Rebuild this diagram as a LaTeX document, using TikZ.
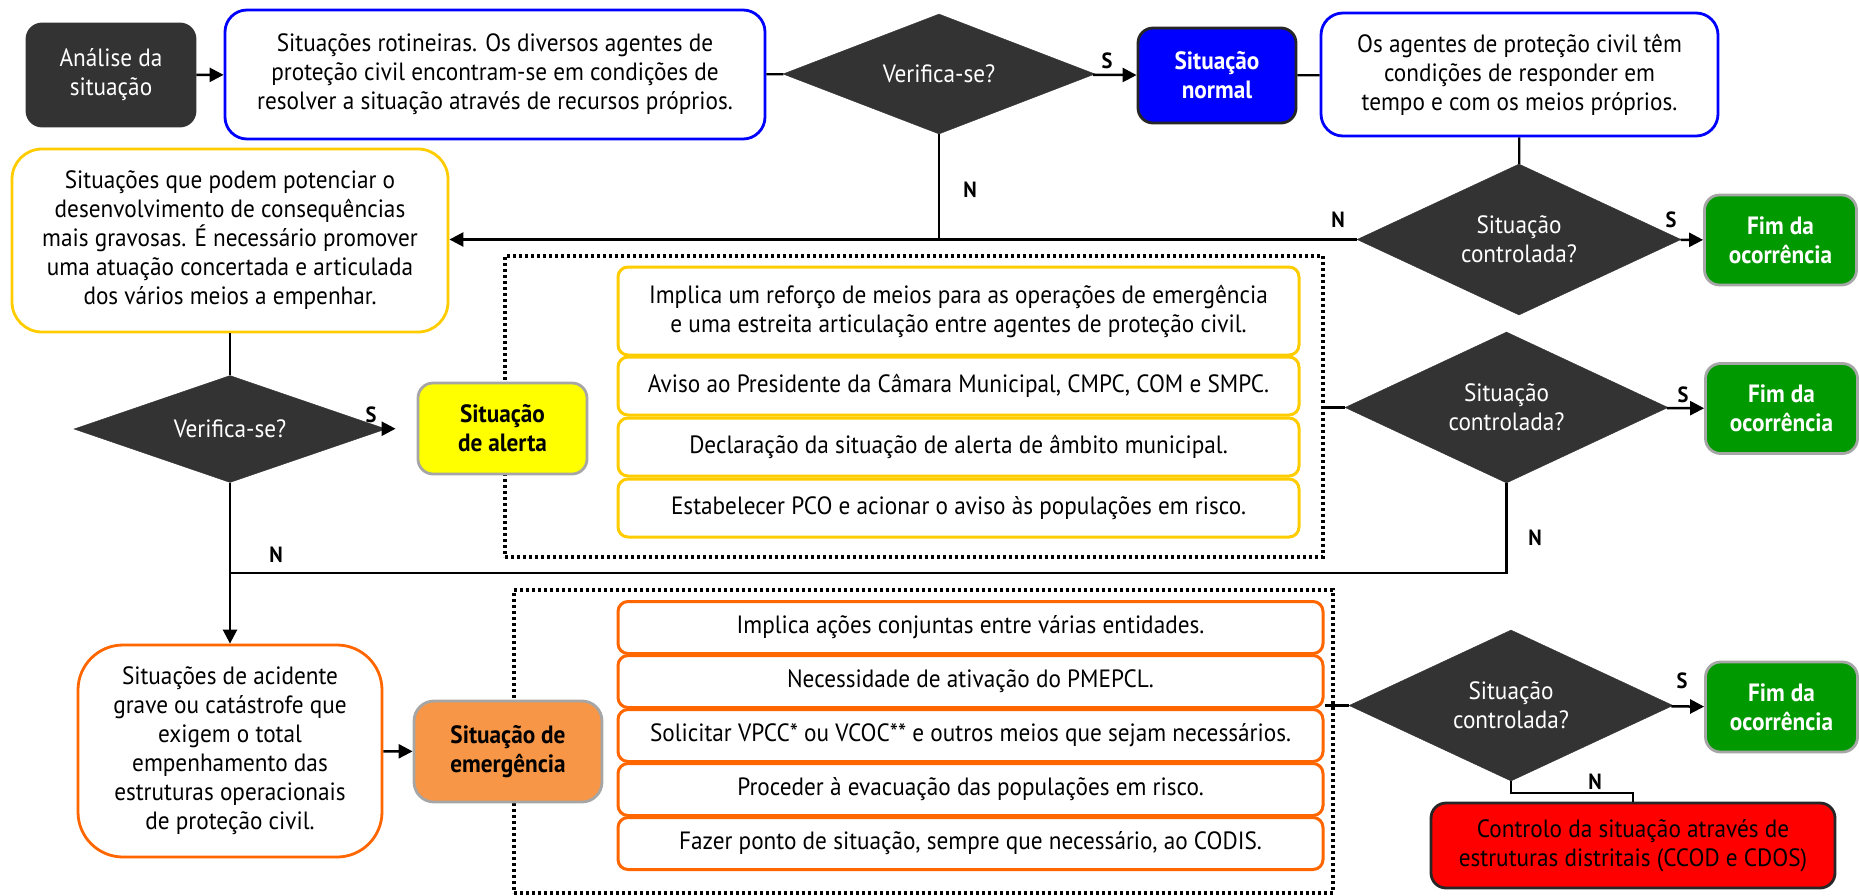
\documentclass[tikz,border=0pt]{standalone}
\usepackage{fontspec}
\setmainfont{PT Sans}[FakeStretch=0.93]
\usepackage{tikz}
\usetikzlibrary{shapes.geometric,arrows.meta}
\definecolor{escuro}{HTML}{333333}
\definecolor{azul}{HTML}{0000FF}
\definecolor{verde}{HTML}{009900}
\definecolor{amarelo}{HTML}{FFFF00}
\definecolor{ouro}{HTML}{FFCC00}
\definecolor{laranja}{HTML}{FF6600}
\definecolor{salmao}{HTML}{F79646}
\definecolor{cinza}{HTML}{A6A6A6}

\begin{document}
\begin{tikzpicture}[x=1pt,y=-1pt,
    txt/.style={font=\fontsize{25}{29}\selectfont, align=center, inner sep=0pt},
    bx/.style={txt, draw, line width=2.8pt, rounded corners=#1},
    dec/.style={txt, diamond, shape aspect=2, fill=escuro, draw=escuro, text=white},
    fim/.style={bx=15pt, fill=verde, draw=cinza, text=white, font=\fontsize{25}{29}\selectfont\bfseries, minimum width=152pt, minimum height=90pt},
    lista/.style={bx=10pt, line width=3pt, fill=white},
    pontos/.style={draw, line width=3.5pt, dash pattern=on 3pt off 3pt, inner sep=0pt},
    seta/.style={-{Triangle[length=14pt,width=14pt]}, line width=2.5pt},
    lig/.style={line width=2.2pt},
    lbl/.style={font=\fontsize{22}{22}\selectfont\bfseries, inner sep=0pt}]
  \useasboundingbox (0,0) rectangle (1859,895);

  \node[bx=15pt, fill=escuro, draw=escuro, text=white, minimum width=168pt, minimum height=102pt] (ana) at (111,75) {Análise da\\situação};
  \node[bx=22pt, draw=azul, minimum width=540pt, minimum height=129pt] (rot) at (495,74.5) {Situações rotineiras. Os diversos agentes de\\proteção civil encontram-se em condições de\\resolver a situação através de recursos próprios.};
  \node[dec, minimum width=312pt, minimum height=120pt] (ver1) at (939,74) {Verifica-se?};
  \node[bx=15pt, fill=azul, draw=black!85, text=white, font=\fontsize{25}{29}\selectfont\bfseries, minimum width=158pt, minimum height=95pt] (normal) at (1217,75.5) {Situação\\normal};
  \node[bx=22pt, draw=azul, minimum width=397pt, minimum height=123pt] (agentes) at (1519.5,74.5) {Os agentes de proteção civil têm\\condições de responder em\\tempo e com os meios próprios.};
  \node[dec, minimum width=324pt, minimum height=151pt] (ctl1) at (1519,239.5) {Situação\\controlada?};
  \node[fim] (fim1) at (1780.5,240) {Fim da\\ocorrência};

  \node[bx=30pt, draw=ouro, minimum width=436pt, minimum height=183pt] (pot) at (230,240.5) {Situações que podem potenciar o\\desenvolvimento de consequências\\mais gravosas. É necessário promover\\uma atuação concertada e articulada\\dos vários meios a empenhar.};
  \node[dec, minimum width=312pt, minimum height=107pt] (ver2) at (230,429) {Verifica-se?};
  \node[pontos, minimum width=818pt, minimum height=301pt] (cx1) at (914,406.5) {};
  \node[bx=15pt, fill=amarelo, draw=cinza, font=\fontsize{25}{29}\selectfont\bfseries, minimum width=169pt, minimum height=91pt] (alerta) at (502.5,428.5) {Situação\\de alerta};
  \node[lista, draw=ouro, minimum width=681pt, minimum height=88pt] (a1) at (958.5,311) {Implica um reforço de meios para as operações de emergência\\e uma estreita articulação entre agentes de proteção civil.};
  \foreach \t [count=\i from 2] in {{Aviso ao Presidente da Câmara Municipal, CMPC, COM e SMPC.}, {Declaração da situação de alerta de âmbito municipal.}, {Estabelecer PCO e acionar o aviso às populações em risco.}}
    \node[lista, draw=ouro, minimum width=681pt, minimum height=58pt] (a\i) at (958.5,{264+61*\i}) {\t};
  \node[dec, minimum width=323pt, minimum height=151pt] (ctl2) at (1506.5,407.5) {Situação\\controlada?};
  \node[fim] (fim2) at (1781.5,408.5) {Fim da\\ocorrência};

  \node[bx=45pt, draw=laranja, minimum width=304pt, minimum height=212pt] (grave) at (230,751) {Situações de acidente\\grave ou catástrofe que\\exigem o total\\empenhamento das\\estruturas operacionais\\de proteção civil.};
  \node[pontos, minimum width=819pt, minimum height=303pt] (cx2) at (923.5,741.5) {};
  \node[bx=20pt, fill=salmao, draw=cinza, font=\fontsize{25}{29}\selectfont\bfseries, minimum width=188pt, minimum height=101pt] (emerg) at (508,751.5) {Situação de\\emergência};
  \foreach \t [count=\i] in {{Implica ações conjuntas entre várias entidades.}, {Necessidade de ativação do PMEPCL.}, {Solicitar VPCC* ou VCOC** e outros meios que sejam necessários.}, {Proceder à evacuação das populações em risco.}, {Fazer ponto de situação, sempre que necessário, ao CODIS.}}
    \node[lista, draw=laranja, minimum width=705pt, minimum height=52pt] (e\i) at (970.5,{573.5+54*\i}) {\t};
  \node[dec, minimum width=324pt, minimum height=151pt] (ctl3) at (1511,705.5) {Situação\\controlada?};
  \node[fim] (fim3) at (1781.5,707) {Fim da\\ocorrência};
  \node[bx=15pt, fill=red, draw=black!85, minimum width=404pt, minimum height=85pt] (ctrl) at (1633,845.5) {Controlo da situação através de\\estruturas distritais (CCOD e CDOS)};

  \node[lbl] (s1) at (1107,61) {S};
  \node[lbl] (n1) at (970,190) {N};
  \node[lbl] (n2) at (1338,220) {N};
  \node[lbl] (s2) at (1671,220) {S};
  \node[lbl] (s3) at (371,415) {S};
  \node[lbl] (n3) at (276,555) {N};
  \node[lbl] (s4) at (1683,395) {S};
  \node[lbl] (n4) at (1535,538) {N};
  \node[lbl] (s5) at (1682,681) {S};
  \node[lbl] (n5) at (1595,782) {N};
  \coordinate (jn) at (230,573);

  \draw[seta] (ana) -- (rot);
  \draw[lig] (rot) -- (ver1);
  \draw[seta] (ver1) -- (normal);
  \draw[lig] (normal) -- (agentes);
  \draw[lig] (agentes) -- (ctl1);
  \draw[seta] (ctl1) -- (fim1);
  \draw[seta] (ctl1.west) -- (ctl1.west -| pot.east);
  \draw[lig] (ver1.south) -- (ver1.south |- ctl1.west);
  \draw[lig] (pot) -- (ver2);
  \draw[seta, shorten >=21pt] (ver2) -- (alerta);
  \draw[lig] (ctl2.west) -- (ctl2.west -| cx1.east);
  \draw[seta] (ctl2) -- (fim2);
  \draw[lig] (ctl2.south) |- (jn);
  \draw[seta] (ver2) -- (grave);
  \draw[seta] (grave) -- (emerg);
  \draw[lig] (ctl3.west) -- (ctl3.west -| e2.east);
  \draw[seta] (ctl3) -- (fim3);
  \draw[lig] (ctl3.south) -- ++(0,12) -| (ctrl.north);
\end{tikzpicture}
\end{document}
